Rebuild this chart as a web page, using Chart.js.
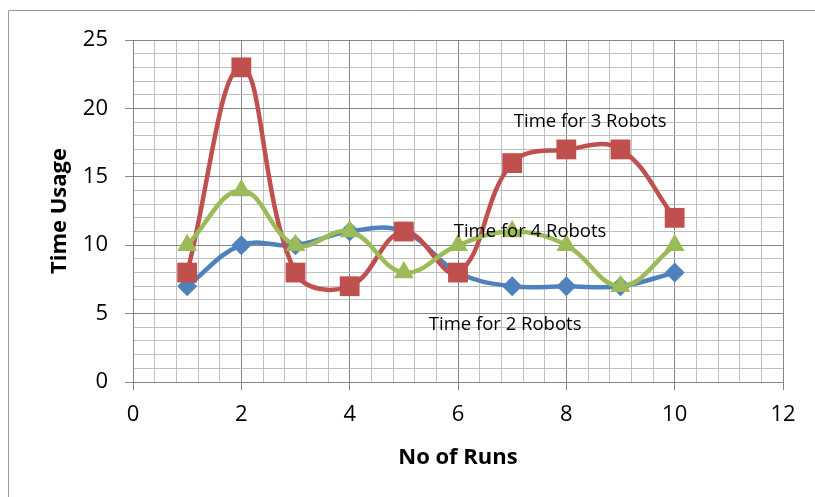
<!DOCTYPE html>
<html>
<head>
<meta charset="utf-8">
<script src="https://cdn.jsdelivr.net/npm/chart.js@4.4.1/dist/chart.umd.min.js"></script>
<style>
  html, body { margin: 0; padding: 0; background: #fff; }
  #wrap { width: 815px; height: 497px; }
</style>
</head>
<body>
<div id="wrap"><canvas id="chart" width="815" height="497"></canvas></div>
<script>
const runs   = [1, 2, 3, 4, 5, 6, 7, 8, 9, 10];
const time2  = [7, 10, 10, 11, 11, 8, 7, 7, 7, 8];
const time3  = [8, 23, 8, 7, 11, 8, 16, 17, 17, 12];
const time4  = [10, 14, 10, 11, 8, 10, 11, 10, 7, 10];
const seriesNames = ['Time for 2 Robots', 'Time for 3 Robots', 'Time for 4 Robots'];

const toPoints = ys => runs.map((x, i) => ({ x: x, y: ys[i] }));

const MAJOR = '#868686';
const MINOR = '#c0c0c0';
const FONT = "'Open Sans', sans-serif";

// series names written inside the plot, placed in data units
const seriesLabels = {
  id: 'seriesLabels',
  beforeDraw(chart) {
    const ctx = chart.ctx;
    ctx.save();
    ctx.fillStyle = '#fff';
    ctx.fillRect(0, 0, chart.width, chart.height);
    ctx.strokeStyle = '#9a9a9a';
    ctx.lineWidth = 1;
    ctx.beginPath();
    ctx.moveTo(8.5, chart.height);
    ctx.lineTo(8.5, 10.5);
    ctx.lineTo(chart.width, 10.5);
    ctx.stroke();
    ctx.restore();
  },
  afterDatasetsDraw(chart) {
    const ctx = chart.ctx;
    const xs = chart.scales.x, ys = chart.scales.y;
    const spots = [[6.87, 4.2], [8.44, 19.0], [7.33, 11.0]];
    ctx.save();
    ctx.font = '18.5px ' + FONT;
    ctx.fillStyle = '#000';
    ctx.textAlign = 'center';
    ctx.textBaseline = 'middle';
    seriesNames.forEach((name, i) => {
      ctx.fillText(name, xs.getPixelForValue(spots[i][0]), ys.getPixelForValue(spots[i][1]));
    });
    ctx.restore();
  }
};

const isMajor = (v, step) => Math.abs(v / step - Math.round(v / step)) < 1e-6;

new Chart(document.getElementById('chart'), {
  type: 'scatter',
  data: {
    datasets: [
      {
        label: seriesNames[0],
        data: toPoints(time2),
        borderColor: '#4F81BD',
        backgroundColor: '#4F81BD',
        pointStyle: 'rectRot',
        pointRadius: 10,
        order: 2
      },
      {
        label: seriesNames[1],
        data: toPoints(time3),
        borderColor: '#C0504D',
        backgroundColor: '#C0504D',
        pointStyle: 'rect',
        pointRadius: 14,
        order: 1
      },
      {
        label: seriesNames[2],
        data: toPoints(time4),
        borderColor: '#9BBB59',
        backgroundColor: '#9BBB59',
        pointStyle: 'triangle',
        pointRadius: 11.5,
        order: 0
      }
    ].map(d => Object.assign(d, { showLine: true, tension: 0.4, borderWidth: 4.5, pointBorderWidth: 0, pointHoverRadius: d.pointRadius }))
  },
  options: {
    responsive: false,
    animation: false,
    layout: { padding: { left: 43, top: 40, right: 32, bottom: 22 } },
    plugins: { legend: { display: false }, tooltip: { enabled: false } },
    scales: {
      x: {
        type: 'linear',
        min: 0, max: 12,
        afterFit(scale) { scale.height = 93; },
        ticks: {
          stepSize: 0.4,
          autoSkip: false,
          maxRotation: 0,
          padding: 12,
          color: '#000',
          font: { family: FONT, size: 22 },
          callback: v => isMajor(v, 2) ? String(Math.round(v)) : ''
        },
        grid: {
          color: c => isMajor(c.tick.value, 2) ? MAJOR : MINOR,
          tickColor: c => isMajor(c.tick.value, 2) ? MAJOR : 'rgba(0,0,0,0)',
          tickLength: 8,
          lineWidth: 1
        },
        border: { color: MAJOR, width: 1 },
        title: {
          display: true,
          text: 'No of Runs',
          color: '#000',
          font: { family: FONT, size: 22, weight: 'bold' }
        }
      },
      y: {
        min: 0, max: 25,
        afterFit(scale) { scale.width = 90; },
        ticks: {
          stepSize: 1,
          autoSkip: false,
          padding: 17,
          color: '#000',
          font: { family: FONT, size: 22 },
          callback: v => isMajor(v, 5) ? String(v) : ''
        },
        grid: {
          color: c => isMajor(c.tick.value, 5) ? MAJOR : MINOR,
          tickColor: c => isMajor(c.tick.value, 5) ? MAJOR : 'rgba(0,0,0,0)',
          tickLength: 8,
          lineWidth: 1
        },
        border: { color: MAJOR, width: 1 },
        title: {
          display: true,
          text: 'Time Usage',
          color: '#000',
          font: { family: FONT, size: 22, weight: 'bold' }
        }
      }
    }
  },
  plugins: [seriesLabels]
});
</script>
</body>
</html>
